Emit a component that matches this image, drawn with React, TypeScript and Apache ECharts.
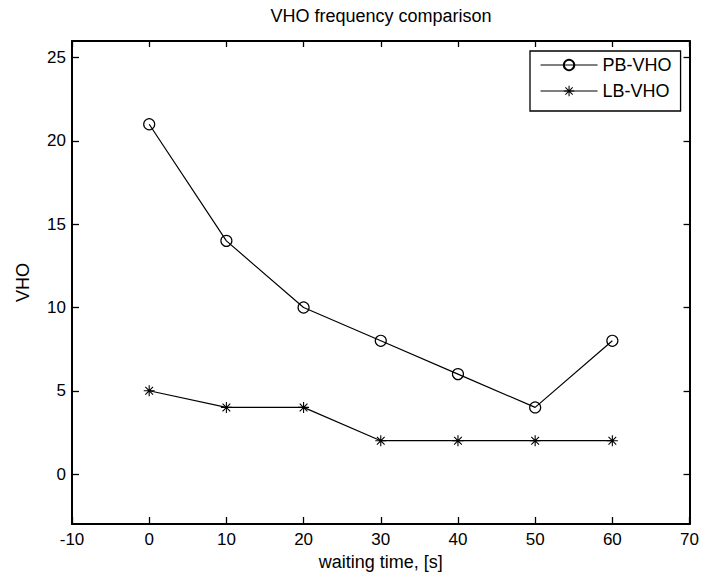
import React, { useEffect, useRef } from "react";
import * as echarts from "echarts";

const waitingTime = [0, 10, 20, 30, 40, 50, 60];
const pbVho = [21, 14, 10, 8, 6, 4, 8];
const lbVho = [5, 4, 4, 2, 2, 2, 2];
const yTicks = [0, 5, 10, 15, 20, 25];
const seriesNames = ["PB-VHO", "LB-VHO"];
const titleText = "VHO frequency comparison";
const xName = "waiting time, [s]";
const yName = "VHO";

const FONT = "'Liberation Sans', Arial, Helvetica, sans-serif";
const ASTERISK =
  "path://M9 0 L11 0 L11 20 L9 20 Z M0 9 L20 9 L20 11 L0 11 Z M2.3 3.7 L3.7 2.3 L17.7 16.3 L16.3 17.7 Z M16.3 2.3 L17.7 3.7 L3.7 17.7 L2.3 16.3 Z";

export default function App() {
  const ref = useRef<HTMLDivElement>(null);
  useEffect(() => {
    if (!ref.current) return;
    const chart = echarts.init(ref.current, null, { renderer: "svg" });
    const axisLine = { show: true, onZero: false, lineStyle: { color: "#000", width: 2 } };
    const tick = { show: true, inside: true, length: 7, lineStyle: { color: "#000", width: 1.3 } };
    const label = { color: "#000", fontSize: 17, fontFamily: FONT };
    chart.setOption({
      animation: false,
      backgroundColor: "#fff",
      graphic: [
        {
          type: "text",
          x: 381,
          y: 16,
          style: {
            text: titleText,
            fill: "#000",
            font: `18px ${FONT}`,
            textAlign: "center",
            textVerticalAlign: "middle",
          },
        },
      ],
      grid: { left: 72, right: 12, top: 41, bottom: 53, containLabel: false },
      legend: {
        left: 530,
        top: 51,
        orient: "vertical",
        data: seriesNames,
        itemWidth: 57,
        itemHeight: 13,
        itemGap: 8,
        padding: [5, 9, 11, 10],
        borderColor: "#000",
        borderWidth: 1.3,
        backgroundColor: "#fff",
        lineStyle: { width: 1.1, color: "#000" },
        textStyle: { color: "#000", fontSize: 18, fontFamily: FONT },
      },
      xAxis: [
        {
          type: "value",
          min: -10,
          max: 70,
          interval: 10,
          position: "bottom",
          axisLine,
          axisTick: tick,
          splitLine: { show: false },
          axisLabel: { ...label, margin: 7 },
          name: xName,
          nameLocation: "middle",
          nameGap: 28,
          nameTextStyle: { color: "#000", fontSize: 18, fontFamily: FONT },
        },
        {
          type: "value",
          min: -10,
          max: 70,
          interval: 10,
          position: "top",
          axisLine,
          axisTick: { ...tick, length: 6 },
          splitLine: { show: false },
          axisLabel: { show: false },
        },
      ],
      yAxis: [
        {
          type: "value",
          min: -3,
          max: 26,
          position: "left",
          axisLine,
          axisTick: { ...tick, customValues: yTicks },
          splitLine: { show: false },
          axisLabel: { ...label, margin: 6, customValues: yTicks },
          name: yName,
          nameLocation: "middle",
          nameGap: 40,
          nameTextStyle: { color: "#000", fontSize: 18, fontFamily: FONT },
        },
        {
          type: "value",
          min: -3,
          max: 26,
          position: "right",
          axisLine,
          axisTick: { ...tick, length: 6, customValues: yTicks },
          splitLine: { show: false },
          axisLabel: { show: false, customValues: yTicks },
        },
      ],
      series: [
        {
          name: seriesNames[0],
          type: "line",
          data: waitingTime.map((x, i) => [x, pbVho[i]]),
          symbol: "circle",
          symbolSize: 11,
          showAllSymbol: true,
          lineStyle: { color: "#000", width: 1.2 },
          itemStyle: { color: "rgba(0,0,0,0)", borderColor: "#000", borderWidth: 1.2 },
        },
        {
          name: seriesNames[1],
          type: "line",
          data: waitingTime.map((x, i) => [x, lbVho[i]]),
          symbol: ASTERISK,
          symbolSize: 11,
          showAllSymbol: true,
          lineStyle: { color: "#000", width: 1.2 },
          itemStyle: { color: "#000", borderWidth: 0 },
        },
      ],
    });
    return () => chart.dispose();
  }, []);
  return (
    <div
      ref={ref}
      style={{ position: "fixed", left: 0, top: 0, width: 702, height: 577 }}
    />
  );
}
